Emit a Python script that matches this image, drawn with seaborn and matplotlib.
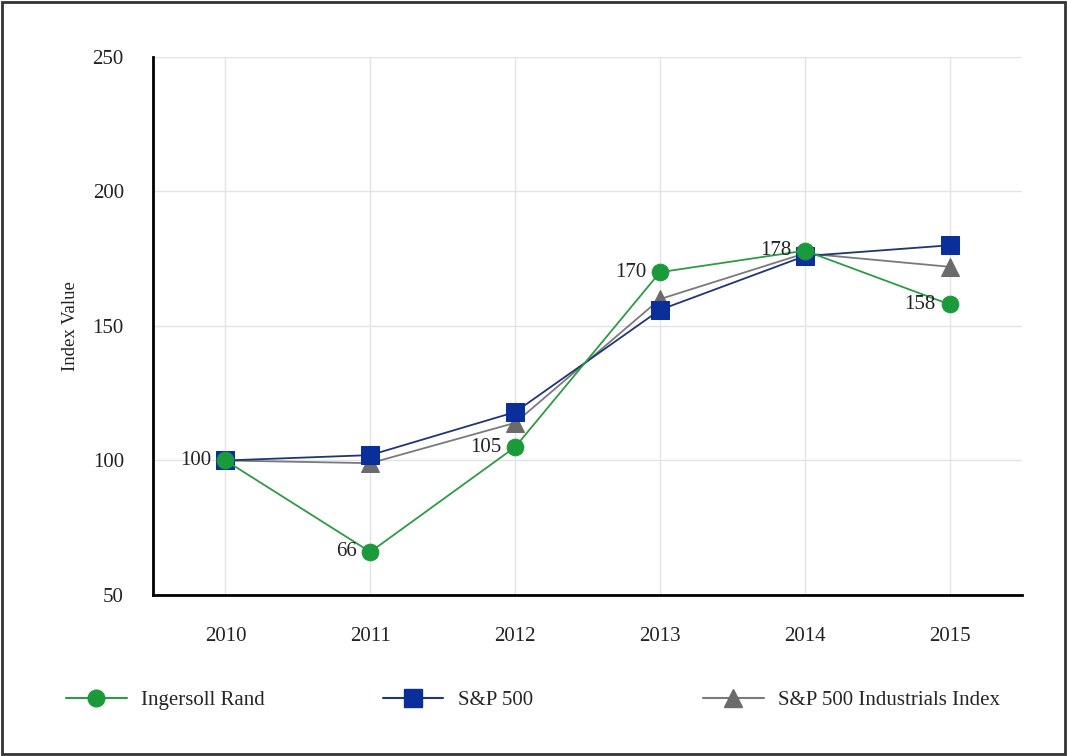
import matplotlib
matplotlib.use("Agg")
import matplotlib.pyplot as plt
from matplotlib.lines import Line2D
from matplotlib.patches import Rectangle
import seaborn as sns
import pandas as pd

years = [2010, 2011, 2012, 2013, 2014, 2015]
ingersoll = [100, 66, 105, 170, 178, 158]
sp500 = [100, 102, 118, 156, 176, 180]
industrials = [100, 99, 114, 160, 177, 172]
series_names = ["Ingersoll Rand", "S&P 500", "S&P 500 Industrials Index"]

colors = {"Ingersoll Rand": "#1b9a3b", "S&P 500": "#0b2f9a", "S&P 500 Industrials Index": "#6b6b6b"}
line_colors = {"Ingersoll Rand": "#2e9a44", "S&P 500": "#1f3575", "S&P 500 Industrials Index": "#7a7a7a"}
markers = {"Ingersoll Rand": "o", "S&P 500": "s", "S&P 500 Industrials Index": "^"}
msizes = {"Ingersoll Rand": 12, "S&P 500": 13, "S&P 500 Industrials Index": 12.5}

df = pd.DataFrame({
    "year": years * 3,
    "value": ingersoll + sp500 + industrials,
    "series": [series_names[0]] * 6 + [series_names[1]] * 6 + [series_names[2]] * 6,
})

sns.set_style("white")
plt.rcParams["font.family"] = ["Liberation Serif", "DejaVu Serif"]

fig = plt.figure(figsize=(10.67, 7.56), dpi=100)
ax = fig.add_axes([0.1434, 0.213, 0.8146, 0.7116])

# draw grey first, green last so green sits on top
for name in reversed(series_names):
    sub = df[df["series"] == name]
    sns.lineplot(data=sub, x="year", y="value", ax=ax, color=line_colors[name],
                 linewidth=1.3, marker=markers[name], markersize=msizes[name],
                 markerfacecolor=colors[name], markeredgecolor=colors[name],
                 legend=False, zorder=3)

for yr, v in zip(years, ingersoll):
    ax.annotate(str(v), (yr, v), xytext=(-10, 0), textcoords="offset points",
                ha="right", va="center", fontsize=15, color="#222222")

ax.set_xlim(2009.5, 2015.5)
ax.set_ylim(50, 250)
ax.set_xticks(years)
ax.set_xticklabels([str(y) for y in years])
ax.set_yticks([50, 100, 150, 200, 250])
ax.set_xlabel("")
ax.set_ylabel("Index Value", fontsize=13.5, color="#222222", labelpad=10)
ax.grid(True, color="#e3e3e3", linewidth=1)
ax.set_axisbelow(True)
for s in ["top", "right"]:
    ax.spines[s].set_visible(False)
for s in ["left", "bottom"]:
    ax.spines[s].set_color("black")
    ax.spines[s].set_linewidth(2)
ax.tick_params(axis="both", which="both", length=7, width=1, color="#888888",
               labelsize=15, labelcolor="#222222", pad=14)
ax.tick_params(axis="x", pad=16)

# legend entries, one per series, placed along the bottom
legend_x = [0.062, 0.359, 0.659]
for name, lx in zip(series_names, legend_x):
    h = Line2D([], [], color=line_colors[name], linewidth=1.5, marker=markers[name],
               markersize=msizes[name], markerfacecolor=colors[name], markeredgecolor=colors[name])
    fig.legend(handles=[h], labels=[name], loc="center left", bbox_to_anchor=(lx, 0.074),
               frameon=False, fontsize=15, handlelength=2.9, handletextpad=0.7,
               borderaxespad=0, borderpad=0)

fig.patches.append(Rectangle((0.002, 0.002), 0.996, 0.995, transform=fig.transFigure,
                             fill=False, edgecolor="#333333", linewidth=2))

fig.savefig("out.png", dpi=100)
